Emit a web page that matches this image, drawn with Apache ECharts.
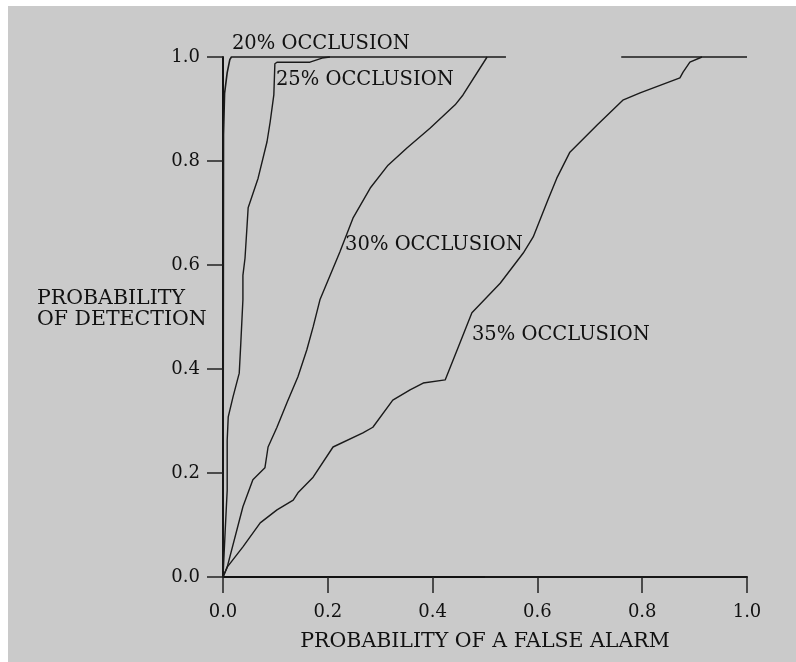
<!DOCTYPE html>
<html>
<head>
<meta charset="utf-8">
<script src="https://cdn.jsdelivr.net/npm/echarts@6/dist/echarts.min.js"></script>
<style>
  html, body { margin: 0; padding: 0; background: #ffffff; }
  #chart { position: absolute; left: 8px; top: 6px; width: 788px; height: 656px; }
</style>
</head>
<body>
<div id="chart"></div>
<script>
// ---- data ----
var xTicks = [0, 0.2, 0.4, 0.6, 0.8, 1.0];
var yTicks = [0, 0.2, 0.4, 0.6, 0.8, 1.0];

var occ20 = [[0, 0], [0.001, 0.85], [0.003, 0.93], [0.008, 0.97], [0.013, 0.995], [0.016, 1.0], [0.54, 1.0]];
var occ25 = [[0, 0], [0.004, 0.085], [0.008, 0.167], [0.008, 0.263], [0.010, 0.308], [0.019, 0.346],
             [0.031, 0.392], [0.034, 0.45], [0.038, 0.533], [0.038, 0.58], [0.042, 0.613], [0.046, 0.677],
             [0.048, 0.71], [0.067, 0.767], [0.084, 0.837], [0.090, 0.875], [0.097, 0.927], [0.099, 0.987],
             [0.103, 0.99], [0.166, 0.99], [0.189, 0.998], [0.204, 1.0]];
var occ30 = [[0, 0], [0.008, 0.019], [0.038, 0.135], [0.057, 0.187], [0.080, 0.21], [0.086, 0.25],
             [0.103, 0.288], [0.122, 0.335], [0.143, 0.385], [0.160, 0.437], [0.172, 0.481], [0.185, 0.533],
             [0.223, 0.625], [0.248, 0.69], [0.281, 0.748], [0.315, 0.792], [0.351, 0.825], [0.395, 0.863],
             [0.443, 0.908], [0.458, 0.927], [0.504, 1.0]];
var occ35 = [[0, 0], [0.008, 0.019], [0.038, 0.058], [0.071, 0.104], [0.103, 0.129], [0.134, 0.148],
             [0.143, 0.162], [0.172, 0.192], [0.210, 0.25], [0.267, 0.277], [0.286, 0.288], [0.324, 0.34],
             [0.357, 0.36], [0.382, 0.373], [0.424, 0.379], [0.447, 0.437], [0.475, 0.508], [0.529, 0.565],
             [0.573, 0.623], [0.592, 0.654], [0.620, 0.725], [0.637, 0.767], [0.662, 0.817], [0.714, 0.869],
             [0.763, 0.917], [0.796, 0.931], [0.872, 0.96], [0.878, 0.971], [0.891, 0.99], [0.914, 1.0], [1.0, 1.0]];
var topSegment = [[0.76, 1.0], [0.914, 1.0]];
var bottomSegment = [[0.5, 0], [1.0, 0]];

var labelTexts = ['20% OCCLUSION', '25% OCCLUSION', '30% OCCLUSION', '35% OCCLUSION'];
var labelX = [0.017, 0.101, 0.233, 0.475];
var labelY = [1.025, 0.956, 0.638, 0.465];

var xTitle = 'PROBABILITY OF A FALSE ALARM';
var yTitle = ['PROBABILITY', 'OF DETECTION'];

// ---- chart ----
var FONT = '"DejaVu Serif", "Liberation Serif", serif';
var INK = '#111111';
var chart = echarts.init(document.getElementById('chart'), null, { renderer: 'canvas' });

function lineSeries(name, data, w) {
  return {
    name: name, type: 'line', data: data, showSymbol: false, symbol: 'none',
    smooth: false, animation: false, clip: false,
    lineStyle: { color: '#1a1a1a', width: w || 1.4 }
  };
}

var axisCommon = {
  type: 'value', min: 0, max: 1, interval: 0.2,
  axisLine: { show: true, onZero: false, lineStyle: { color: INK, width: 2 } },
  axisTick: { show: true, inside: false, length: 16, lineStyle: { color: '#222', width: 1.5 } },
  splitLine: { show: false },
  axisLabel: {
    color: INK, fontFamily: FONT, fontSize: 18,
    formatter: function (v) { return v.toFixed(1); }
  }
};

var option = {
  backgroundColor: '#cacaca',
  animation: false,
  grid: { left: 215, top: 51, right: 49, bottom: 85, containLabel: false },
  xAxis: echarts.util.merge({
    name: xTitle, nameLocation: 'middle', nameGap: 54,
    nameTextStyle: { color: INK, fontFamily: FONT, fontSize: 20.5 },
    axisLabel: { margin: 26 }
  }, axisCommon, false),
  yAxis: echarts.util.merge({
    axisLabel: { margin: 23 }
  }, axisCommon, false),
  series: [
    lineSeries('20%', occ20, 1.6),
    lineSeries('25%', occ25),
    lineSeries('30%', occ30),
    lineSeries('35%', occ35),
    lineSeries('top', topSegment),
    lineSeries('bottom', bottomSegment, 1.5)
  ]
};
chart.setOption(option);

var graphics = [];
for (var i = 0; i < labelTexts.length; i++) {
  var p = chart.convertToPixel({ gridIndex: 0 }, [labelX[i], labelY[i]]);
  graphics.push({
    type: 'text', x: p[0], y: p[1],
    style: { text: labelTexts[i], fill: INK, font: '19.5px ' + FONT, textAlign: 'left', textVerticalAlign: 'middle' }
  });
}
graphics.push({
  type: 'text', x: 29, y: 303,
  style: { text: yTitle.join('\n'), fill: INK, font: '20.5px ' + FONT, textAlign: 'left', textVerticalAlign: 'middle', lineHeight: 21 }
});
chart.setOption({ graphic: graphics });
</script>
</body>
</html>
